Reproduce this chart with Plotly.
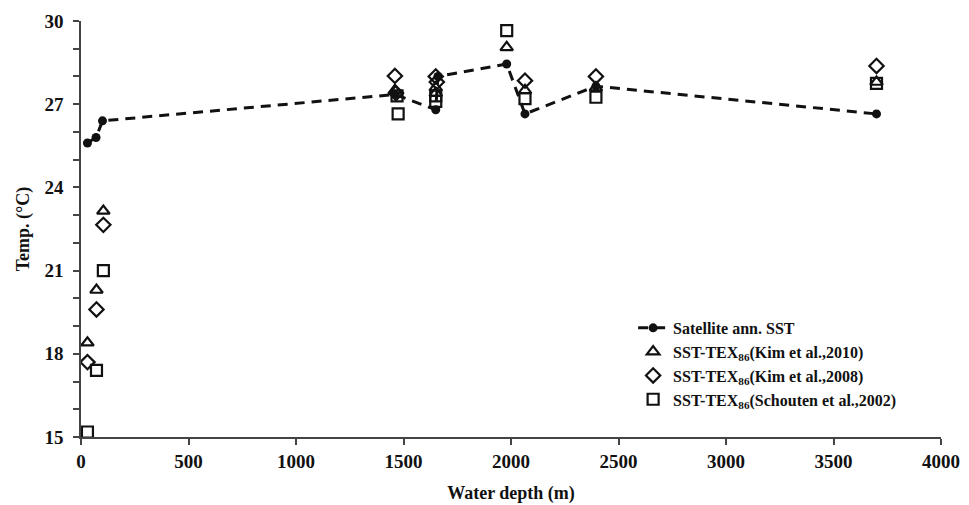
import plotly.graph_objects as go

# Satellite annual SST (dashed line with dots)
sst_depth = [30, 70, 100, 1460, 1650, 1660, 1980, 2065, 2395, 3700]
sst_temp = [25.6, 25.8, 26.4, 27.35, 26.8, 28.0, 28.45, 26.65, 27.65, 26.65]

# SST-TEX86 (Kim et al., 2010) - triangles
k10_depth = [30, 72, 104, 1460, 1650, 1650, 1980, 2065, 2395, 3700]
k10_temp = [18.4, 20.3, 23.15, 27.5, 27.6, 27.4, 29.05, 27.5, 27.6, 27.8]

# SST-TEX86 (Kim et al., 2008) - diamonds
k08_depth = [30, 72, 104, 1460, 1465, 1650, 1655, 2065, 2395, 3700]
k08_temp = [17.7, 19.6, 22.65, 28.02, 27.4, 28.0, 27.8, 27.85, 28.0, 28.38]

# SST-TEX86 (Schouten et al., 2002) - squares
s02_depth = [30, 72, 104, 1470, 1475, 1650, 1650, 1980, 2065, 2395, 3700]
s02_temp = [15.18, 17.4, 21.0, 27.3, 26.65, 27.3, 27.1, 29.65, 27.2, 27.25, 27.75]

INK = "#111111"
FONT = "Liberation Serif"

fig = go.Figure()
fig.add_trace(go.Scatter(
    x=sst_depth, y=sst_temp, mode="lines+markers",
    name="Satellite ann. SST",
    line=dict(color=INK, width=3, dash="10px,7px"),
    marker=dict(symbol="circle", size=9, color=INK),
    cliponaxis=False,
))
fig.add_trace(go.Scatter(
    x=k10_depth, y=k10_temp, mode="markers",
    name="SST-TEX<sub>86</sub>(Kim et al.,2010)",
    marker=dict(symbol="triangle-up-open", size=11, color=INK, line=dict(width=2.2, color=INK)),
    cliponaxis=False,
))
fig.add_trace(go.Scatter(
    x=k08_depth, y=k08_temp, mode="markers",
    name="SST-TEX<sub>86</sub>(Kim et al.,2008)",
    marker=dict(symbol="diamond-open", size=11, color=INK, line=dict(width=2.2, color=INK)),
    cliponaxis=False,
))
fig.add_trace(go.Scatter(
    x=s02_depth, y=s02_temp, mode="markers",
    name="SST-TEX<sub>86</sub>(Schouten et al.,2002)",
    marker=dict(symbol="square-open", size=11, color=INK, line=dict(width=2.2, color=INK)),
    cliponaxis=False,
))

# page body has an 8px margin, so the figure is sized to fit the window
fig.update_layout(
    width=961, height=497,
    margin=dict(l=73, r=28, t=13, b=68),
    paper_bgcolor="white", plot_bgcolor="white",
    font=dict(family=FONT, color=INK),
    showlegend=True,
    legend=dict(
        x=0.642, y=0.303, xanchor="left", yanchor="top",
        font=dict(family=FONT, size=16, color=INK, weight="bold"),
        bgcolor="rgba(0,0,0,0)", itemwidth=30,
    ),
)
fig.update_xaxes(
    range=[0, 4000], tickvals=[0, 500, 1000, 1500, 2000, 2500, 3000, 3500, 4000],
    automargin=False,
    showgrid=False, zeroline=False, showline=True, linecolor="#444", linewidth=1.5,
    ticks="outside", ticklen=6, tickcolor="#444", tickwidth=1.5,
    tickfont=dict(family=FONT, size=19, color=INK, weight="bold"),
    title=dict(text="Water depth (m)", font=dict(family=FONT, size=18, color=INK, weight="bold"), standoff=16),
)
fig.update_yaxes(
    range=[15, 30], tickvals=[15, 18, 21, 24, 27, 30],
    automargin=False,
    showgrid=False, zeroline=False, showline=True, linecolor="#444", linewidth=1.5,
    ticks="outside", ticklen=6, tickcolor="#444", tickwidth=1.5,
    minor=dict(dtick=1, ticks="outside", ticklen=6, tickcolor="#444", tickwidth=1.5, showgrid=False),
    tickfont=dict(family=FONT, size=19, color=INK, weight="bold"),
    ticklabelstandoff=6,
    title=dict(text="Temp. (°C)", font=dict(family=FONT, size=18, color=INK, weight="bold"), standoff=10),
)

fig.write_html("out.html")
